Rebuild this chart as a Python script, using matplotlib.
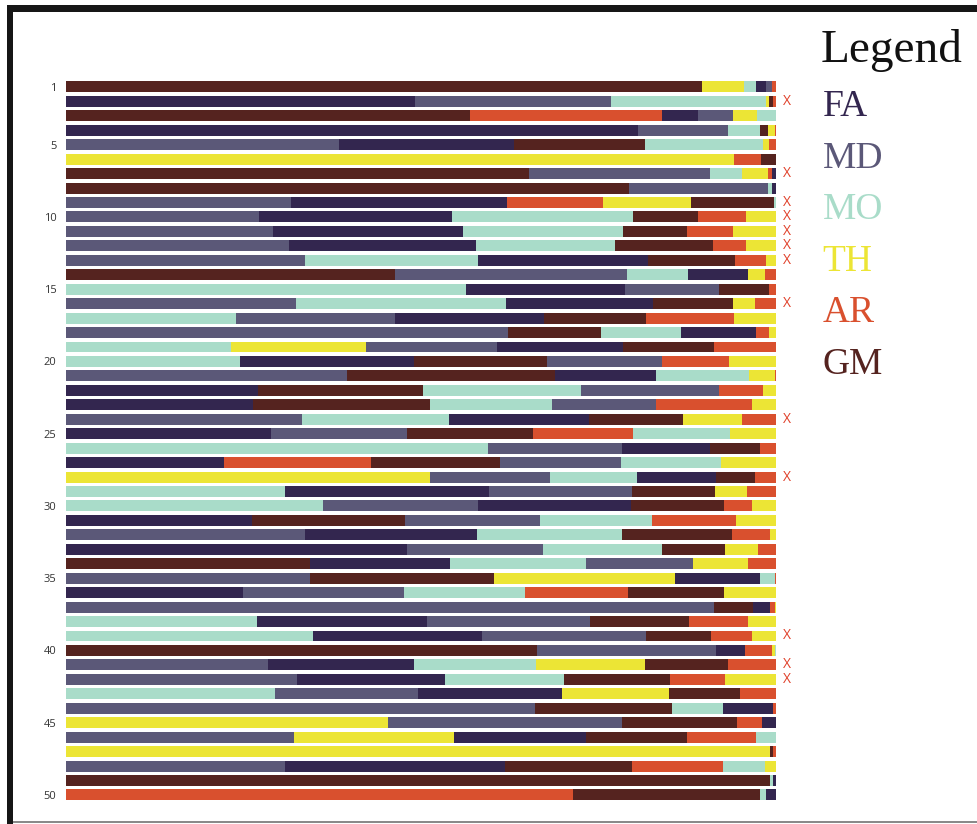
import numpy as np
import matplotlib
matplotlib.use("Agg")
import matplotlib.pyplot as plt
from matplotlib.patches import Rectangle
from matplotlib.transforms import blended_transform_factory

categories = ["FA", "MD", "MO", "TH", "AR", "GM"]
colours = {
    "FA": "#33264f",
    "MD": "#5b5878",
    "MO": "#a9dcc9",
    "TH": "#ece535",
    "AR": "#d9502e",
    "GM": "#55231f",
}

# segment order of each row (left to right) and the share of each segment, in %
row_order = [
    "GM TH MO FA MD AR",   # 1
    "FA MD MO TH GM AR",
    "GM AR FA MD TH MO",
    "FA MD MO GM TH AR",
    "MD FA GM MO TH AR",   # 5
    "TH AR GM",
    "GM MD MO TH AR FA",
    "GM MD MO FA",
    "MD FA AR TH GM MO",
    "MD FA MO GM AR TH",   # 10
    "MD FA MO GM AR TH",
    "MD FA MO GM AR TH",
    "MD MO FA GM AR TH",
    "GM MD MO FA TH AR",
    "MO FA MD GM AR",      # 15
    "MD MO FA GM TH AR",
    "MO MD FA GM AR TH",
    "MD GM MO FA AR TH",
    "MO TH MD FA GM AR",
    "MO FA GM MD AR TH",   # 20
    "MD GM FA MO TH AR",
    "FA GM MO MD AR TH",
    "FA GM MO MD AR TH",
    "MD MO FA GM TH AR",
    "FA MD GM AR MO TH",   # 25
    "MO MD FA GM AR",
    "FA AR GM MD MO TH",
    "TH MD MO FA GM AR",
    "MO FA MD GM TH AR",
    "MO MD FA GM AR TH",   # 30
    "FA GM MD MO AR TH",
    "MD FA MO GM AR TH",
    "FA MD MO GM TH AR",
    "GM FA MO MD TH AR",
    "MD GM TH FA MO AR",   # 35
    "FA MD MO AR GM TH",
    "MD GM FA AR TH",
    "MO FA MD GM AR TH",
    "MO FA MD GM AR TH",
    "GM MD FA AR TH MO",   # 40
    "MD FA MO TH GM AR",
    "MD FA MO GM AR TH",
    "MO MD FA TH GM AR",
    "MD GM MO FA AR",
    "TH MD GM AR FA",      # 45
    "MD TH FA GM AR MO",
    "TH GM AR",
    "MD FA GM AR MO TH",
    "GM MO FA",
    "AR GM MO FA",         # 50
]

row_share = [
    [89.6, 5.9, 1.7, 1.4, 0.8, 0.6],
    [49.2, 27.6, 21.8, 0.4, 0.6, 0.4],
    [56.9, 27.0, 5.1, 5.0, 3.3, 2.7],
    [80.5, 12.7, 4.5, 1.1, 1.0, 0.2],
    [38.4, 24.7, 18.5, 16.5, 0.9, 1.0],
    [94.1, 3.8, 2.1],
    [65.2, 25.5, 4.5, 3.7, 0.6, 0.5],
    [79.3, 19.6, 0.6, 0.5],
    [31.7, 30.4, 13.5, 12.4, 11.7, 0.3],
    [27.2, 27.1, 25.6, 9.1, 6.8, 4.2],
    [29.2, 26.7, 22.5, 9.1, 6.4, 6.1],
    [31.4, 26.3, 19.6, 13.8, 4.7, 4.2],
    [33.7, 24.3, 24.0, 12.2, 4.4, 1.4],
    [46.4, 32.6, 8.6, 8.5, 2.4, 1.5],
    [56.4, 22.3, 13.3, 7.0, 1.0],
    [32.4, 29.6, 20.7, 11.3, 3.0, 3.0],
    [23.9, 22.5, 20.9, 14.4, 12.4, 5.9],
    [62.2, 13.1, 11.3, 10.6, 1.8, 1.0],
    [23.3, 18.9, 18.5, 17.7, 12.9, 8.7],
    [24.5, 24.5, 18.7, 16.3, 9.4, 6.6],
    [39.6, 29.3, 14.2, 13.1, 3.6, 0.2],
    [27.1, 23.2, 22.3, 19.3, 6.2, 1.9],
    [26.3, 24.9, 17.2, 14.7, 13.5, 3.4],
    [33.3, 20.7, 19.6, 13.3, 8.3, 4.8],
    [28.9, 19.1, 17.8, 14.1, 13.6, 6.5],
    [59.4, 18.9, 12.4, 7.0, 2.3],
    [22.2, 20.7, 18.2, 17.1, 14.0, 7.8],
    [51.3, 16.9, 12.2, 11.1, 5.5, 3.0],
    [30.8, 28.8, 20.1, 11.7, 4.5, 4.1],
    [36.2, 21.8, 21.6, 13.1, 3.9, 3.4],
    [26.2, 21.6, 18.9, 15.9, 11.7, 5.7],
    [33.7, 24.2, 20.4, 15.5, 5.4, 0.8],
    [48.0, 19.2, 16.8, 8.8, 4.6, 2.6],
    [34.3, 19.8, 19.1, 15.1, 7.7, 4.0],
    [34.3, 26.0, 25.4, 12.0, 2.1, 0.2],
    [24.9, 22.7, 17.1, 14.5, 13.5, 7.3],
    [91.2, 5.6, 2.4, 0.6, 0.2],
    [26.9, 24.0, 22.9, 13.9, 8.4, 3.9],
    [34.8, 23.8, 23.1, 9.2, 5.7, 3.4],
    [66.3, 25.2, 4.1, 3.8, 0.4, 0.2],
    [28.4, 20.6, 17.2, 15.4, 11.7, 6.7],
    [32.5, 20.9, 16.7, 15.0, 7.7, 7.2],
    [29.4, 20.2, 20.2, 15.1, 10.0, 5.1],
    [66.1, 19.2, 7.3, 7.0, 0.4],
    [45.3, 33.0, 16.2, 3.5, 2.0],
    [32.1, 22.5, 18.7, 14.2, 9.7, 2.8],
    [99.2, 0.4, 0.4],
    [30.9, 30.9, 17.9, 12.9, 5.8, 1.6],
    [99.2, 0.4, 0.4],
    [71.4, 26.3, 0.9, 1.4],
]

flagged_rows = [2, 7, 9, 10, 11, 12, 13, 16, 24, 28, 39, 41, 42]
tick_rows = [1, 5, 10, 15, 20, 25, 30, 35, 40, 45, 50]

fig = plt.figure(figsize=(9.77, 8.24), dpi=100)
ax = fig.add_axes([0.0676, 0.0265, 0.7267, 0.8768])

for i, (order, share) in enumerate(zip(row_order, row_share)):
    row = i + 1
    left = 0.0
    for cat, w in zip(order.split(), share):
        ax.barh(row, w, left=left, height=0.76, color=colours[cat], edgecolor="none")
        left += w

ax.set_xlim(0, 100)
ax.set_ylim(50.5, 0.5)
ax.set_yticks(tick_rows)
ax.set_yticklabels([str(t) for t in tick_rows], fontsize=8, color="#333333",
                   family="Open Sans")
ax.set_xticks([])
ax.tick_params(axis="y", length=0, pad=7)
for s in ax.spines.values():
    s.set_visible(False)

trans = blended_transform_factory(ax.transAxes, ax.transData)
for r in flagged_rows:
    ax.text(1.0155, r, "X", transform=trans, ha="center", va="center",
            fontsize=10, color="#e0402a", family="Open Sans")

# legend drawn as coloured words
fig.text(0.8395, 1 - 50 / 824, "Legend", fontsize=34, family="Liberation Serif",
         color="#111111", va="center", ha="left")
for k, cat in enumerate(categories):
    fig.text(0.842, 1 - (107 + 51.5 * k) / 824, cat, fontsize=27,
             family="Liberation Serif", color=colours[cat], va="center", ha="left")

# picture frame
fig.add_artist(Rectangle((7 / 977, 1 - 12 / 824), 1 - 7 / 977, 7 / 824,
                         transform=fig.transFigure, color="#161616", lw=0))
fig.add_artist(Rectangle((7 / 977, 0), 6 / 977, 1 - 5 / 824,
                         transform=fig.transFigure, color="#161616", lw=0))
fig.add_artist(Rectangle((13 / 977, 1 / 824), 1, 2 / 824,
                         transform=fig.transFigure, color="#8a8a8a", lw=0))

plt.savefig("out.png", dpi=100)
